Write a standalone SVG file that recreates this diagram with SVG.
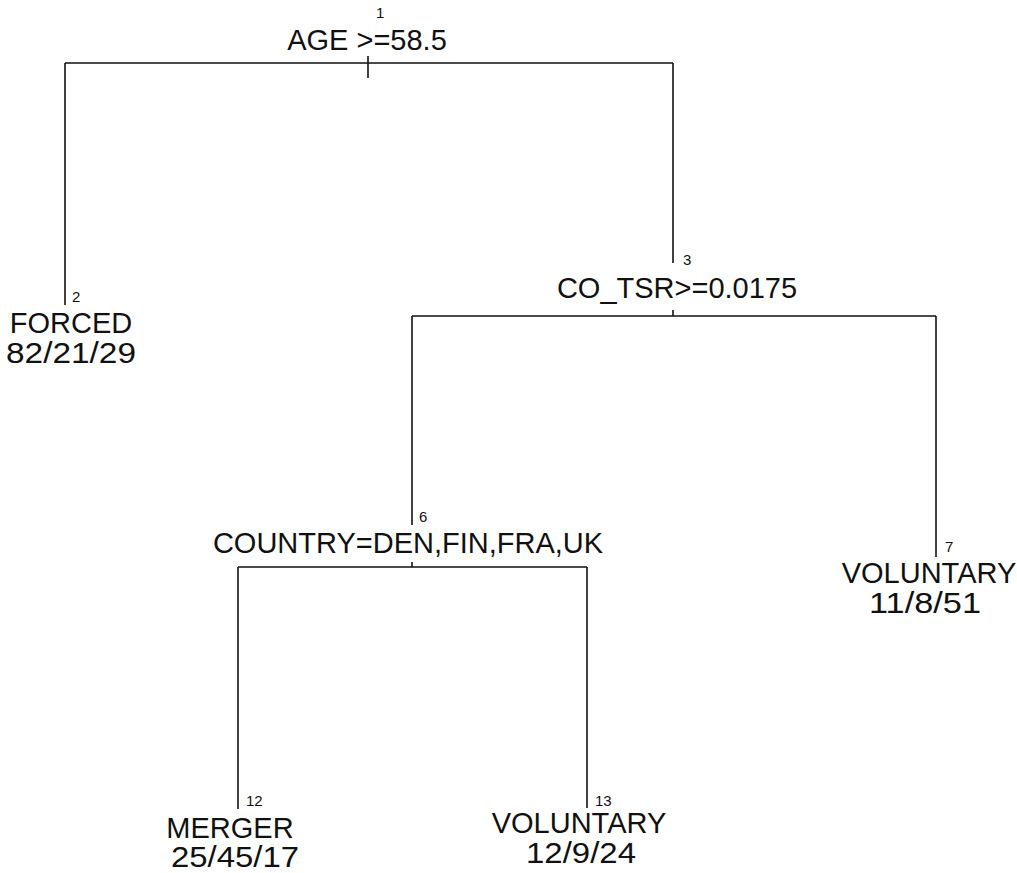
<svg xmlns="http://www.w3.org/2000/svg" width="1017" height="873" viewBox="0 0 1017 873">
<style>
.lbl{font-family:"Liberation Sans",Arial,sans-serif;font-size:29px;fill:#111;text-anchor:middle}
.num{font-family:"Liberation Sans",Arial,sans-serif;font-size:15px;fill:#111}
.ln{stroke:#111;stroke-width:1.6;fill:none}
</style>
<rect width="1017" height="873" fill="#fff"/>
<g id="connectors">
<path class="ln" d="M65,63 H673 M368,56 V78"/>
<path class="ln" d="M65,63 V305"/>
<path class="ln" d="M673,63 V263"/>
<path class="ln" d="M412,316 H936 M673,310 V316"/>
<path class="ln" d="M412,316 V525"/>
<path class="ln" d="M936,316 V557"/>
<path class="ln" d="M238,567 H587 M412,562 V567"/>
<path class="ln" d="M238,567 V809"/>
<path class="ln" d="M587,567 V808"/>
</g>
<g id="node1">
<text class="num" x="376" y="18">1</text>
<text class="lbl" x="367" y="50">AGE &gt;=58.5</text>
</g>
<g id="node2">
<text class="num" x="72" y="302">2</text>
<text class="lbl" x="71" y="333">FORCED</text>
<text class="lbl" x="71" y="363" textLength="130" lengthAdjust="spacingAndGlyphs">82/21/29</text>
</g>
<g id="node3">
<text class="num" x="683" y="265">3</text>
<text class="lbl" x="677" y="298">CO_TSR&gt;=0.0175</text>
</g>
<g id="node6">
<text class="num" x="419" y="522">6</text>
<text class="lbl" x="408" y="553">COUNTRY=DEN,FIN,FRA,UK</text>
</g>
<g id="node7">
<text class="num" x="945" y="552">7</text>
<text class="lbl" x="929" y="583">VOLUNTARY</text>
<text class="lbl" x="925" y="613" textLength="112" lengthAdjust="spacingAndGlyphs">11/8/51</text>
</g>
<g id="node12">
<text class="num" x="246" y="806">12</text>
<text class="lbl" x="230" y="838">MERGER</text>
<text class="lbl" x="235" y="867" textLength="128" lengthAdjust="spacingAndGlyphs">25/45/17</text>
</g>
<g id="node13">
<text class="num" x="595" y="806">13</text>
<text class="lbl" x="579" y="833">VOLUNTARY</text>
<text class="lbl" x="581" y="863" textLength="110" lengthAdjust="spacingAndGlyphs">12/9/24</text>
</g>
</svg>
